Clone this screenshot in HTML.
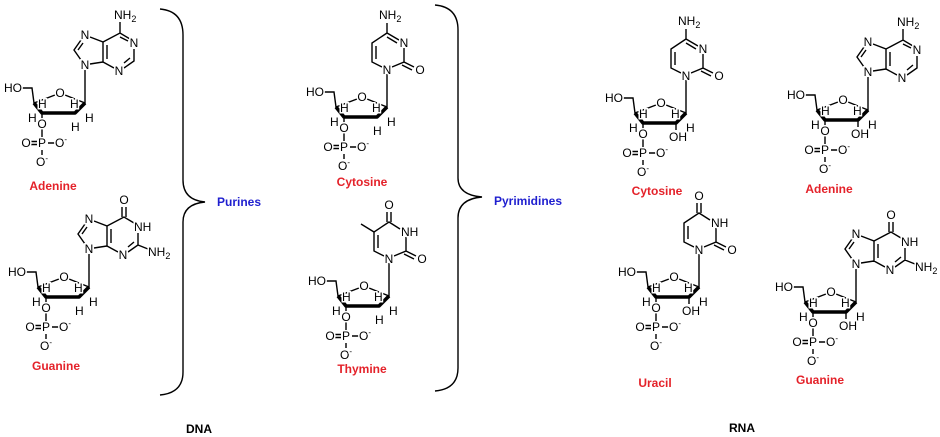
<!DOCTYPE html>
<html><head><meta charset="utf-8"><style>
html,body{margin:0;padding:0;background:#fff;width:940px;height:437px;overflow:hidden}
svg{display:block}
text{font-family:"Liberation Sans",sans-serif;font-size:12px;fill:#000;stroke:#fff;stroke-width:3;paint-order:stroke}
.l{fill:none;stroke:#000;stroke-width:1.4}
.b{fill:none;stroke:#000;stroke-width:3.6;stroke-linejoin:round}
.lab{font-weight:bold;fill:#e4222a;stroke:none;font-size:12px}
.blue{font-weight:bold;fill:#1f1fcf;stroke:none;font-size:12px}
.dr{font-weight:bold;stroke:none;font-size:12px}
.m{text-anchor:middle}
.e{text-anchor:end}
</style></head><body>
<svg width="940" height="437" viewBox="0 0 940 437" xmlns="http://www.w3.org/2000/svg">
<path class="l" d="M160,9 Q183,11 183,35 L183,180 Q183,200 205,202 Q183,204 183,222 L183,372 Q183,393 160,395"/>
<path class="l" d="M435,5 Q458,7 458,30 L458,178 Q458,195 482,197 Q458,199 458,218 L458,368 Q458,389 435,391"/>
<text class="blue" x="217" y="206">Purines</text>
<text class="blue" x="494" y="205">Pyrimidines</text>
<text class="dr" x="186" y="433">DNA</text>
<text class="dr" x="729" y="432">RNA</text>

<!-- 1 DNA Adenine -->
<g transform="translate(85,103)">
<path class="l" d="M-63,-15H-53L-51,0L-30,-8M-20,-8L0,0V-33M-43,10V16M-43,25V34M-43,47V52M-37,40H-29M-54,38.5H-48M-54,41.5H-48"/>
<path class="b" d="M-51,0L-43,10H-10L0,0"/>
<path class="l" d="M-4,-43L-11,-53L-4,-63M-7,-53L-2,-60M5,-66L18,-61V-41L5,-39M22,-58V-44M18,-61L35,-70L45,-64M35,-66L43,-62M49,-54V-42L39,-35M45,-45L39,-40M29,-35L18,-41M35,-70V-81"/>
<text x="-63" y="-11" class="e">HO</text><text x="-25" y="-6" class="m">O</text>
<text x="-47" y="5">H</text><text x="-15" y="5">H</text><text x="-57" y="19">H</text><text x="0" y="19">H</text><text x="-14" y="28">H</text>
<text x="-43" y="25" class="m">O</text><text x="-43" y="44" class="m">P</text><text x="-59" y="44" class="m">O</text><text x="-24" y="44" class="m">O<tspan font-size="8" dy="-5">-</tspan></text><text x="-43" y="63" class="m">O<tspan font-size="8" dy="-5">-</tspan></text>
<text x="0" y="-34" class="m">N</text><text x="0" y="-64" class="m">N</text><text x="49" y="-56" class="m">N</text><text x="34" y="-28" class="m">N</text><text x="29" y="-84">NH<tspan font-size="9" dy="3">2</tspan></text>
</g>
<text class="lab m" x="53" y="190">Adenine</text>

<!-- 2 DNA Guanine -->
<g transform="translate(89,287)">
<path class="l" d="M-63,-15H-53L-51,0L-30,-8M-20,-8L0,0V-33M-43,10V16M-43,25V34M-43,47V52M-37,40H-29M-54,38.5H-48M-54,41.5H-48"/>
<path class="b" d="M-51,0L-43,10H-10L0,0"/>
<path class="l" d="M-4,-43L-11,-53L-4,-63M-7,-53L-2,-60M5,-66L18,-61V-41L5,-39M22,-58V-44M18,-61L35,-70L45,-64M49,-54V-42L39,-35M45,-45L39,-40M29,-35L18,-41M33,-70V-80M37,-70V-80M49,-42L59,-38"/>
<text x="-63" y="-11" class="e">HO</text><text x="-25" y="-6" class="m">O</text>
<text x="-47" y="5">H</text><text x="-15" y="5">H</text><text x="-57" y="19">H</text><text x="0" y="19">H</text><text x="-14" y="28">H</text>
<text x="-43" y="25" class="m">O</text><text x="-43" y="44" class="m">P</text><text x="-59" y="44" class="m">O</text><text x="-24" y="44" class="m">O<tspan font-size="8" dy="-5">-</tspan></text><text x="-43" y="63" class="m">O<tspan font-size="8" dy="-5">-</tspan></text>
<text x="0" y="-34" class="m">N</text><text x="0" y="-64" class="m">N</text><text x="45" y="-56">NH</text><text x="34" y="-28" class="m">N</text><text x="35" y="-83" class="m">O</text><text x="59" y="-31">NH<tspan font-size="9" dy="3">2</tspan></text>
</g>
<text class="lab m" x="56" y="370">Guanine</text>

<!-- 3 DNA Cytosine -->
<g transform="translate(387,107)">
<path class="l" d="M-63,-15H-53L-51,0L-30,-8M-20,-8L0,0V-33M-43,10V16M-43,25V34M-43,47V52M-37,40H-29M-54,38.5H-48M-54,41.5H-48"/>
<path class="b" d="M-51,0L-43,10H-10L0,0"/>
<path class="l" d="M-5,-40L-15,-45V-64L0,-74L12,-67M-11,-48V-61M0,-70L10,-64M17,-59V-45L5,-40M17,-45L27,-40M15,-42L25,-37M0,-74V-84"/>
<text x="-63" y="-11" class="e">HO</text><text x="-25" y="-6" class="m">O</text>
<text x="-47" y="5">H</text><text x="-15" y="5">H</text><text x="-57" y="19">H</text><text x="0" y="19">H</text><text x="-14" y="28">H</text>
<text x="-43" y="25" class="m">O</text><text x="-43" y="44" class="m">P</text><text x="-59" y="44" class="m">O</text><text x="-24" y="44" class="m">O<tspan font-size="8" dy="-5">-</tspan></text><text x="-43" y="63" class="m">O<tspan font-size="8" dy="-5">-</tspan></text>
<text x="0" y="-33" class="m">N</text><text x="17" y="-60" class="m">N</text><text x="33" y="-33" class="m">O</text><text x="-8" y="-88">NH<tspan font-size="9" dy="3">2</tspan></text>
</g>
<text class="lab m" x="362" y="186">Cytosine</text>

<!-- 4 DNA Thymine -->
<g transform="translate(389,296)">
<path class="l" d="M-63,-15H-53L-51,0L-30,-8M-20,-8L0,0V-33M-43,10V16M-43,25V34M-43,47V52M-37,40H-29M-54,38.5H-48M-54,41.5H-48"/>
<path class="b" d="M-51,0L-43,10H-10L0,0"/>
<path class="l" d="M-5,-40L-15,-45V-64L0,-74L11,-67M-11,-48V-61M17,-59V-45L5,-40M17,-45L27,-40M15,-42L25,-37M-2,-74V-84M2,-74V-84M-15,-64L-28,-72"/>
<text x="-63" y="-11" class="e">HO</text><text x="-25" y="-6" class="m">O</text>
<text x="-47" y="5">H</text><text x="-15" y="5">H</text><text x="-57" y="19">H</text><text x="0" y="19">H</text><text x="-14" y="28">H</text>
<text x="-43" y="25" class="m">O</text><text x="-43" y="44" class="m">P</text><text x="-59" y="44" class="m">O</text><text x="-24" y="44" class="m">O<tspan font-size="8" dy="-5">-</tspan></text><text x="-43" y="63" class="m">O<tspan font-size="8" dy="-5">-</tspan></text>
<text x="0" y="-33" class="m">N</text><text x="12" y="-60">NH</text><text x="33" y="-33" class="m">O</text><text x="0" y="-87" class="m">O</text>
</g>
<text class="lab m" x="362" y="373">Thymine</text>

<!-- 5 RNA Cytosine -->
<g transform="translate(686,113)">
<path class="l" d="M-63,-15H-53L-51,0L-30,-8M-20,-8L0,0V-33M-43,10V16M-43,25V34M-43,47V52M-37,40H-29M-54,38.5H-48M-54,41.5H-48M-10,10V17"/>
<path class="b" d="M-51,0L-43,10H-10L0,0"/>
<path class="l" d="M-5,-40L-15,-45V-64L0,-74L12,-67M-11,-48V-61M0,-70L10,-64M17,-59V-45L5,-40M17,-45L27,-40M15,-42L25,-37M0,-74V-84"/>
<text x="-63" y="-11" class="e">HO</text><text x="-25" y="-6" class="m">O</text>
<text x="-47" y="5">H</text><text x="-15" y="5">H</text><text x="-57" y="19">H</text><text x="0" y="19">H</text><text x="-8" y="28" class="m">OH</text>
<text x="-43" y="25" class="m">O</text><text x="-43" y="44" class="m">P</text><text x="-59" y="44" class="m">O</text><text x="-24" y="44" class="m">O<tspan font-size="8" dy="-5">-</tspan></text><text x="-43" y="63" class="m">O<tspan font-size="8" dy="-5">-</tspan></text>
<text x="0" y="-33" class="m">N</text><text x="17" y="-60" class="m">N</text><text x="33" y="-33" class="m">O</text><text x="-8" y="-88">NH<tspan font-size="9" dy="3">2</tspan></text>
</g>
<text class="lab m" x="657" y="195">Cytosine</text>

<!-- 6 RNA Adenine -->
<g transform="translate(868,110)">
<path class="l" d="M-63,-15H-53L-51,0L-30,-8M-20,-8L0,0V-33M-43,10V16M-43,25V34M-43,47V52M-37,40H-29M-54,38.5H-48M-54,41.5H-48M-10,10V17"/>
<path class="b" d="M-51,0L-43,10H-10L0,0"/>
<path class="l" d="M-4,-43L-11,-53L-4,-63M-7,-53L-2,-60M5,-66L18,-61V-41L5,-39M22,-58V-44M18,-61L35,-70L45,-64M35,-66L43,-62M49,-54V-42L39,-35M45,-45L39,-40M29,-35L18,-41M35,-70V-81"/>
<text x="-63" y="-11" class="e">HO</text><text x="-25" y="-6" class="m">O</text>
<text x="-47" y="5">H</text><text x="-15" y="5">H</text><text x="-57" y="19">H</text><text x="0" y="19">H</text><text x="-8" y="28" class="m">OH</text>
<text x="-43" y="25" class="m">O</text><text x="-43" y="44" class="m">P</text><text x="-59" y="44" class="m">O</text><text x="-24" y="44" class="m">O<tspan font-size="8" dy="-5">-</tspan></text><text x="-43" y="63" class="m">O<tspan font-size="8" dy="-5">-</tspan></text>
<text x="0" y="-34" class="m">N</text><text x="0" y="-64" class="m">N</text><text x="49" y="-56" class="m">N</text><text x="34" y="-28" class="m">N</text><text x="29" y="-84">NH<tspan font-size="9" dy="3">2</tspan></text>
</g>
<text class="lab m" x="829" y="193">Adenine</text>

<!-- 7 RNA Uracil -->
<g transform="translate(699,287)">
<path class="l" d="M-63,-15H-53L-51,0L-30,-8M-20,-8L0,0V-33M-43,10V16M-43,25V34M-43,47V52M-37,40H-29M-54,38.5H-48M-54,41.5H-48M-10,10V17"/>
<path class="b" d="M-51,0L-43,10H-10L0,0"/>
<path class="l" d="M-5,-40L-15,-45V-64L0,-74L11,-67M-11,-48V-61M17,-59V-45L5,-40M17,-45L27,-40M15,-42L25,-37M-2,-74V-84M2,-74V-84"/>
<text x="-63" y="-11" class="e">HO</text><text x="-25" y="-6" class="m">O</text>
<text x="-47" y="5">H</text><text x="-15" y="5">H</text><text x="-57" y="19">H</text><text x="0" y="19">H</text><text x="-8" y="28" class="m">OH</text>
<text x="-43" y="25" class="m">O</text><text x="-43" y="44" class="m">P</text><text x="-59" y="44" class="m">O</text><text x="-24" y="44" class="m">O<tspan font-size="8" dy="-5">-</tspan></text><text x="-43" y="63" class="m">O<tspan font-size="8" dy="-5">-</tspan></text>
<text x="0" y="-33" class="m">N</text><text x="12" y="-60">NH</text><text x="33" y="-33" class="m">O</text><text x="0" y="-87" class="m">O</text>
</g>
<text class="lab m" x="655" y="387">Uracil</text>

<!-- 8 RNA Guanine -->
<g transform="translate(856,302)">
<path class="l" d="M-63,-15H-53L-51,0L-30,-8M-20,-8L0,0V-33M-43,10V16M-43,25V34M-43,47V52M-37,40H-29M-54,38.5H-48M-54,41.5H-48M-10,10V17"/>
<path class="b" d="M-51,0L-43,10H-10L0,0"/>
<path class="l" d="M-4,-43L-11,-53L-4,-63M-7,-53L-2,-60M5,-66L18,-61V-41L5,-39M22,-58V-44M18,-61L35,-70L45,-64M49,-54V-42L39,-35M45,-45L39,-40M29,-35L18,-41M33,-70V-80M37,-70V-80M49,-42L59,-38"/>
<text x="-63" y="-11" class="e">HO</text><text x="-25" y="-6" class="m">O</text>
<text x="-47" y="5">H</text><text x="-15" y="5">H</text><text x="-57" y="19">H</text><text x="0" y="19">H</text><text x="-8" y="28" class="m">OH</text>
<text x="-43" y="25" class="m">O</text><text x="-43" y="44" class="m">P</text><text x="-59" y="44" class="m">O</text><text x="-24" y="44" class="m">O<tspan font-size="8" dy="-5">-</tspan></text><text x="-43" y="63" class="m">O<tspan font-size="8" dy="-5">-</tspan></text>
<text x="0" y="-34" class="m">N</text><text x="0" y="-64" class="m">N</text><text x="45" y="-56">NH</text><text x="34" y="-28" class="m">N</text><text x="35" y="-83" class="m">O</text><text x="59" y="-31">NH<tspan font-size="9" dy="3">2</tspan></text>
</g>
<text class="lab m" x="820" y="384">Guanine</text>
</svg>
</body></html>
